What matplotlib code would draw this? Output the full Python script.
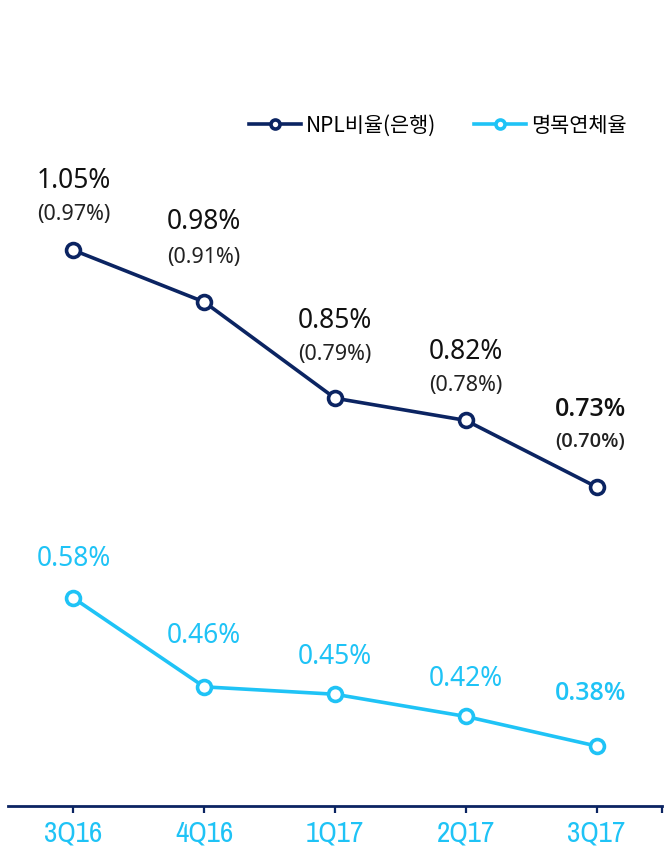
import numpy as np
import matplotlib.pyplot as plt
from matplotlib import font_manager

plt.rcParams['font.family'] = ['Noto Sans CJK KR', 'DejaVu Sans']

# ==================== data ====================
quarters = ["3Q16", "4Q16", "1Q17", "2Q17", "3Q17"]
npl_ratio = [1.05, 0.98, 0.85, 0.82, 0.73]
npl_sub = [0.97, 0.91, 0.79, 0.78, 0.70]
delinq = [0.58, 0.46, 0.45, 0.42, 0.38]
labels = ["NPL비율(은행)", "명목연체율"]

# label offsets (px above point)
npl_off_main = [69, 80, 77, 68, 78]
npl_off_sub = [36, 44, 44, 35, 45]
del_off = [39, 51, 37, 37, 53]

NAVY = "#0b2462"
CYAN = "#1fc3f6"
NUM_FONT = ['Noto Sans', 'DejaVu Sans']
BOLD_FONT = ['Open Sans', 'DejaVu Sans']

narrow = [f.name for f in font_manager.fontManager.ttflist if "Narrow" in f.name]
tick_family = [narrow[0], 'DejaVu Sans'] if narrow else ['Noto Sans CJK KR', 'DejaVu Sans']

fig = plt.figure(figsize=(6.72, 8.5), dpi=100)
ax = fig.add_axes([8 / 672, 44 / 850, 654 / 672, 806 / 850])

x = np.arange(len(quarters))
mk = dict(marker='o', markersize=10, markerfacecolor='white', markeredgewidth=2.6)
l1, = ax.plot(x, npl_ratio, color=NAVY, lw=2.6, label=labels[0], **mk)
l2, = ax.plot(x, delinq, color=CYAN, lw=2.6, label=labels[1], **mk)

ax.set_xlim(-0.5, 4.5)
ax.set_ylim(0.299, 1.388)

px = 72 / 100
for i in range(len(x)):
    last = i == len(x) - 1
    dx = -6 * px if last else 0
    if last:
        st = dict(fontweight='semibold', family=BOLD_FONT)
        big, small = 18, 14.5
    else:
        st = dict(fontweight='normal', family=NUM_FONT)
        big, small = 19, 15.5
    ax.annotate(f"{npl_ratio[i]:.2f}%", (x[i], npl_ratio[i]),
                xytext=(dx, npl_off_main[i] * px), textcoords='offset points',
                ha='center', va='center', fontsize=big, color='#111111', **st)
    ax.annotate(f"({npl_sub[i]:.2f}%)", (x[i], npl_ratio[i]),
                xytext=(dx, npl_off_sub[i] * px), textcoords='offset points',
                ha='center', va='center', fontsize=small, color='#222222', **st)
    ax.annotate(f"{delinq[i]:.2f}%", (x[i], delinq[i]),
                xytext=(dx, del_off[i] * px), textcoords='offset points',
                ha='center', va='center', fontsize=big, color=CYAN, **st)

for s in ['top', 'left', 'right']:
    ax.spines[s].set_visible(False)
ax.spines['bottom'].set_color(NAVY)
ax.spines['bottom'].set_linewidth(2)
ax.set_yticks([])
ax.set_xticks(list(x) + [4.5])
ax.set_xticklabels(quarters + [""])
ax.tick_params(axis='x', direction='out', length=5, width=1.6, color=NAVY,
               labelcolor=CYAN, labelsize=21, pad=5)
for t in ax.get_xticklabels():
    t.set_family(tick_family)
    t.set_fontweight('bold')

ax.legend(handles=[l1, l2], loc='center', bbox_to_anchor=(0.657, 0.844),
          ncol=2, frameon=False, fontsize=15, handlelength=2.5,
          handletextpad=0.25, columnspacing=1.8, markerscale=0.65)

fig.savefig("out.png", dpi=100)
